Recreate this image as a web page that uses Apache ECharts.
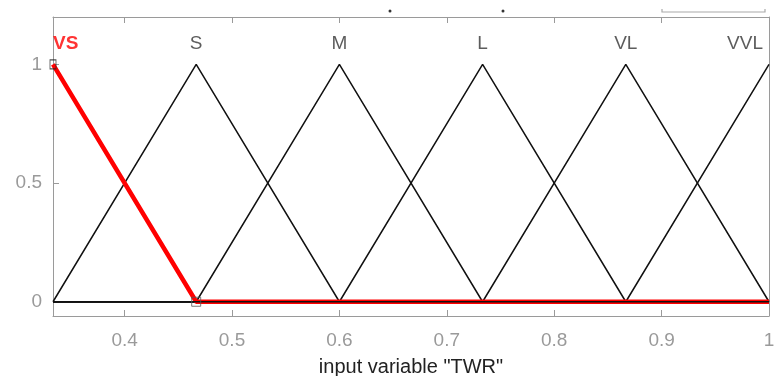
<!DOCTYPE html>
<html>
<head>
<meta charset="utf-8">
<script src="https://cdn.jsdelivr.net/npm/echarts@6/dist/echarts.min.js"></script>
<style>html,body{margin:0;padding:0;background:#fff;}#c{width:775px;height:376px;}</style>
</head>
<body>
<div id="c"></div>
<script>
// ---- data ----
const xMin = 1 / 3, xMax = 1;
const xTicks = [0.4, 0.5, 0.6, 0.7, 0.8, 0.9, 1];
const yTicks = [0, 0.5, 1];
const mfNames = ['VS', 'S', 'M', 'L', 'VL', 'VVL'];
const mfPeaks = [1 / 3, 7 / 15, 0.6, 11 / 15, 13 / 15, 1];
const mfLeft  = [1 / 3, 1 / 3, 7 / 15, 0.6, 11 / 15, 13 / 15];
const mfRight = [7 / 15, 0.6, 11 / 15, 13 / 15, 1, 1];
const labelY = 1.088;
const selectedIndex = 0;

const FONT = 'Liberation Sans, Arial, Helvetica, sans-serif';

function mfPoints(i) {
  const pts = [];
  if (mfLeft[i] > xMin) pts.push([xMin, 0]);
  if (mfLeft[i] < mfPeaks[i]) pts.push([mfLeft[i], 0]);
  pts.push([mfPeaks[i], 1]);
  if (mfRight[i] > mfPeaks[i]) pts.push([mfRight[i], 0]);
  if (mfRight[i] < xMax) pts.push([xMax, 0]);
  return pts;
}

const series = [];
mfNames.forEach((n, i) => {
  if (i === selectedIndex) return;
  series.push({
    type: 'line', data: mfPoints(i), symbol: 'none', z: 3,
    lineStyle: { color: '#111', width: 1.5 }, silent: true
  });
});
// selected MF (red, thick)
series.push({
  type: 'line', data: mfPoints(selectedIndex), symbol: 'none', z: 4,
  lineStyle: { color: '#ff0000', width: 4.5 }, silent: true
});
// black line along the zero level on top
series.push({
  type: 'line', data: [[xMin, 0], [xMax, 0]], symbol: 'none', z: 5,
  lineStyle: { color: '#111', width: 1.5 }, silent: true
});
// handles of the selected MF
series.push({
  type: 'scatter', z: 6, silent: true,
  data: [
    { value: [mfPeaks[selectedIndex], 1], symbolSize: [6, 9], itemStyle: { borderColor: '#222' } },
    { value: [mfRight[selectedIndex], 0], symbolSize: 9, itemStyle: { borderColor: '#555' } }
  ],
  symbol: 'rect',
  itemStyle: { color: 'rgba(0,0,0,0)', borderWidth: 1 },
  clip: false
});
// MF name labels
series.push({
  type: 'scatter', z: 7, silent: true, symbolSize: 0, clip: false,
  data: mfNames.map((n, i) => ({
    value: [mfPeaks[i], labelY],
    name: n,
    label: {
      align: i === 0 ? 'left' : (i === mfNames.length - 1 ? 'right' : 'center'),
      color: i === selectedIndex ? '#ff0000' : '#333',
      fontWeight: i === selectedIndex ? 'bold' : 'normal',
      offset: i === mfNames.length - 1 ? [-6, 0] : [0, 0]
    }
  })),
  label: {
    show: true, position: 'inside', formatter: p => p.name,
    fontFamily: FONT, fontSize: 19, verticalAlign: 'middle'
  }
});

const axisGray = '#9a9a9a';
const option = {
  animation: false,
  backgroundColor: '#fff',
  grid: { left: 53, right: 6, top: 17, bottom: 60, containLabel: false, outerBoundsMode: 'none' },
  xAxis: [{
    type: 'value', min: xMin, max: xMax, position: 'bottom',
    name: 'input variable "TWR"', nameLocation: 'middle', nameGap: 41,
    nameTextStyle: { fontFamily: FONT, fontSize: 20, color: '#222' },
    axisLine: { show: true, onZero: false, lineStyle: { color: axisGray, width: 1 } },
    axisTick: { show: true, inside: true, length: 6, customValues: xTicks, lineStyle: { color: axisGray } },
    axisLabel: { show: true, customValues: xTicks, margin: 15, fontFamily: FONT, fontSize: 19, color: '#9a9a9a', formatter: v => String(+v.toFixed(2)) },
    splitLine: { show: false }
  }, {
    type: 'value', min: xMin, max: xMax, position: 'top',
    axisLine: { show: true, onZero: false, lineStyle: { color: axisGray, width: 1 } },
    axisTick: { show: true, inside: true, length: 6, customValues: xTicks, lineStyle: { color: axisGray } },
    axisLabel: { show: false }, splitLine: { show: false }
  }],
  yAxis: [{
    type: 'value', min: -0.06, max: 1.2, position: 'left',
    axisLine: { show: true, onZero: false, lineStyle: { color: axisGray, width: 1 } },
    axisTick: { show: true, inside: true, length: 6, customValues: yTicks, lineStyle: { color: axisGray } },
    axisLabel: { show: true, customValues: yTicks, margin: 11, fontFamily: FONT, fontSize: 19, color: '#9a9a9a', formatter: v => String(+v.toFixed(2)) },
    splitLine: { show: false }
  }, {
    type: 'value', min: -0.06, max: 1.2, position: 'right',
    axisLine: { show: true, onZero: false, lineStyle: { color: axisGray, width: 1 } },
    axisTick: { show: false }, axisLabel: { show: false }, splitLine: { show: false }
  }],
  graphic: [
    { type: 'circle', shape: { cx: 390, cy: 11, r: 1.5 }, style: { fill: '#333' } },
    { type: 'circle', shape: { cx: 503, cy: 11, r: 1.5 }, style: { fill: '#333' } },
    { type: 'polyline', shape: { points: [[662, 9], [662, 12], [765, 12], [765, 9]] }, style: { stroke: '#aaa', lineWidth: 1.2, fill: null } }
  ],
  series: series
};

const chart = echarts.init(document.getElementById('c'), null, { renderer: 'canvas' });
chart.setOption(option);
</script>
</body>
</html>
